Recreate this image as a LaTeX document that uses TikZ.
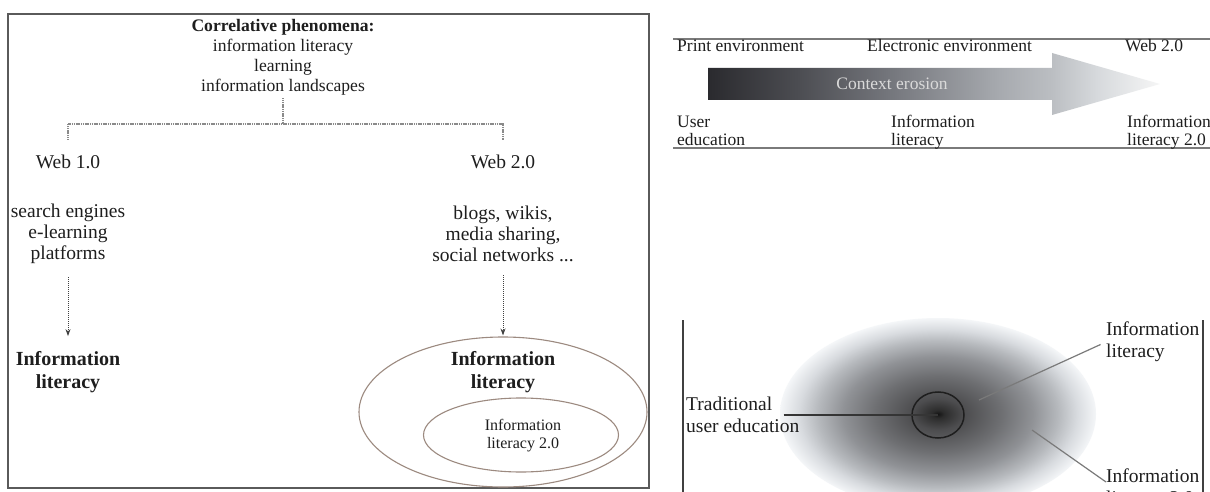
\documentclass[tikz,border=0pt]{standalone}
\usepackage{fontspec}
\setmainfont{Liberation Serif}
\usetikzlibrary{shapes.geometric,arrows.meta}

\definecolor{ink}{HTML}{1E1E1E}
\definecolor{frame}{HTML}{5A5A5A}
\definecolor{treegray}{HTML}{8A8A8A}
\definecolor{rim}{HTML}{9C8A80}
\definecolor{leadgray}{HTML}{7A7A7A}
\definecolor{erosiontext}{HTML}{DADADA}

% gradient of the "context erosion" arrow (25bp..75bp spans the path)
\definecolor{er0}{HTML}{2A2A2E}
\definecolor{er1}{HTML}{4C4D52}
\definecolor{er2}{HTML}{74767C}
\definecolor{er3}{HTML}{A6A9AE}
\definecolor{er4}{HTML}{BBBEC2}
\definecolor{er5}{HTML}{D6D9DC}
\definecolor{er6}{HTML}{F6F6F6}
\pgfdeclarehorizontalshading{erosion}{100bp}{%
  color(0bp)=(er0); color(25bp)=(er0); color(35bp)=(er1); color(45bp)=(er2);
  color(57bp)=(er3); color(63bp)=(er4); color(68bp)=(er5); color(75bp)=(er6);
  color(100bp)=(er6)}

% diffuse cloud around traditional user education (25bp = rim of the ellipse)
\definecolor{bl0}{HTML}{141414}
\definecolor{bl1}{HTML}{2C2C2C}
\definecolor{bl2}{HTML}{4C4C4E}
\definecolor{bl3}{HTML}{6E6F72}
\definecolor{bl4}{HTML}{909296}
\definecolor{bl5}{HTML}{B6B9BD}
\definecolor{bl6}{HTML}{D8DBDF}
\definecolor{bl7}{HTML}{F4F6F8}
\pgfdeclareradialshading{cloud}{\pgfpoint{0bp}{0bp}}{%
  color(0bp)=(bl0); color(1bp)=(bl1); color(4bp)=(bl2); color(10bp)=(bl3);
  color(15bp)=(bl4); color(19bp)=(bl5); color(22bp)=(bl6); color(25bp)=(bl7);
  color(26bp)=(white); color(50bp)=(white)}

\tikzset{
  every node/.style={inner sep=0pt, text=ink},
  toptext/.style={font=\fontsize{17.6}{20}\selectfont, align=center},
  webtext/.style={font=\fontsize{19.5}{21}\selectfont, align=center},
  boldtext/.style={font=\fontsize{20}{23}\selectfont\bfseries, align=center},
  smalltext/.style={font=\fontsize{16}{18}\selectfont, align=center},
  railtext/.style={font=\fontsize{17.5}{18}\selectfont, align=left, anchor=west},
  sidetext/.style={font=\fontsize{19.5}{22}\selectfont, align=left, anchor=west},
  panel/.style={draw=frame, line width=1.3pt},
  tree/.style={draw=treegray, line width=1.2pt, dash pattern=on 1.2pt off 0.6pt},
  flow/.style={draw=ink!85, line width=1pt, dash pattern=on 1pt off 1pt,
    -{Stealth[length=7pt,width=5pt]}},
  ring/.style={ellipse, draw=rim, line width=1.1pt},
  rail/.style={draw=leadgray, line width=1.2pt},
  leader/.style={draw=leadgray, line width=1.2pt},
  darkleader/.style={draw=ink!90, line width=1.4pt},
}

\begin{document}
\begin{tikzpicture}[x=1pt,y=-1pt]
\useasboundingbox (0,0) rectangle (1210,492);
\fill[white] (0,0) rectangle (1210,492);

% ---------- left panel: Web 1.0 versus Web 2.0 ----------
\draw[panel] (8,14) rectangle (649,488);

\node[toptext] (corr) at (283,57)
  {{\bfseries Correlative phenomena:}\\information literacy\\learning\\information landscapes};

\node[webtext] (web1) at (68,162) {Web 1.0};
\node[webtext] (web2) at (503,162) {Web 2.0};

\node[webtext] (list1) at (68,234) {search engines\\e-learning\\platforms};
\node[webtext] (list2) at (503,234) {blogs, wikis,\\media sharing,\\social networks ...};

\node[boldtext] (il1) at (68,372) {Information\\literacy};
\node[boldtext] (il2) at (503,372) {Information\\literacy};

\node[ring, minimum width=288pt, minimum height=150pt] (outer) at (503,412) {};
\node[ring, minimum width=195pt, minimum height=74pt] (inner) at (521,435) {};
\node[smalltext] (il20) at (523,436) {Information\\literacy 2.0};

\coordinate (fork) at (283,124);
\draw[tree, shorten <=3pt] (corr.south) -- (fork);
\draw[tree] ([yshift=15pt]web1.north) |- (fork) -| ([yshift=15pt]web2.north);

\draw[flow, shorten <=13pt, shorten >=15pt] (list1) -- (il1);
\draw[flow, shorten <=13pt, shorten >=1pt] (list2) -- (outer);

% ---------- upper right: context erosion ----------
\draw[rail] (673,39) -- (1210,39);
\draw[rail] (673,148) -- (1210,148);

\node[railtext] (print) at (677,46) {Print environment};
\node[railtext] (elec) at (867,46) {Electronic environment};
\node[railtext] (webtwo) at (1125,46) {Web 2.0};

\shade[shading=erosion]
  (708,68) -- (1052,68) -- (1052,53) -- (1160,84) -- (1052,115) -- (1052,100) -- (708,100) -- cycle;
\node[font=\fontsize{17.5}{18}\selectfont, text=erosiontext] (ctx) at (892,84) {Context erosion};

\node[railtext] (usered) at (677,131) {User\\education};
\node[railtext] (inflit) at (891,132) {Information\\literacy};
\node[railtext] (inflit2) at (1127,132) {Information\\literacy 2.0};

% ---------- lower right: nested literacies ----------
\begin{scope}
  \clip (660,300) rectangle (1210,492);
  \shade[shading=cloud] (938,414) ellipse (158 and 96);
\end{scope}

\draw[panel, draw=ink!85] (683,320) -- (683,492);
\draw[panel, draw=ink!85] (1203,320) -- (1203,492);

\node[ellipse, draw=ink, line width=1.5pt, minimum width=52pt, minimum height=46pt] (core) at (938,415) {};
\coordinate (corec) at (938,415);

\node[sidetext] (trad) at (686,415) {Traditional\\user education};
\node[sidetext] (litA) at (1106,342) {Information\\literacy};
\node[sidetext] (litB) at (1106,489) {Information\\literacy 2.0};

\coordinate (ptA) at (979,400);
\coordinate (ptB) at (1032,430);

\draw[darkleader, shorten <=-2pt] ([xshift=-14pt]trad.east) -- (corec);
\draw[leader, shorten <=6pt] (litA.west) -- (ptA);
\draw[leader] ([yshift=7pt]litB.west) -- (ptB);
\end{tikzpicture}
\end{document}
